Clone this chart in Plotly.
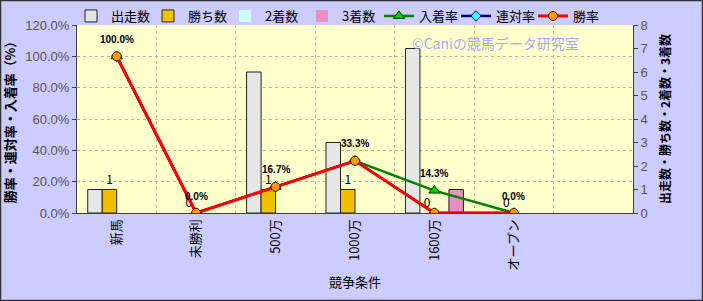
import plotly.graph_objects as go

categories = ["新馬", "未勝利", "500万", "1000万", "1600万", "オープン", " "]
starts = [1, 0, 6, 3, 7, 0, None]
wins = [1, 0, 1, 1, 0, 0, None]
seconds = [0, 0, 0, 0, 0, 0, None]
thirds = [0, 0, 0, 0, 1, 0, None]
place_rate = [1.0, 0.0, 0.167, 0.333, 0.143, 0.0, None]
rentai_rate = [1.0, 0.0, 0.167, 0.333, 0.0, 0.0, None]
win_rate = [1.0, 0.0, 0.167, 0.333, 0.0, 0.0, None]
place_labels = ["100.0%", "0.0%", "16.7%", "33.3%", "14.3%", "0.0%", ""]
left_ticks = [0, 0.2, 0.4, 0.6, 0.8, 1.0, 1.2]
right_ticks = [0, 1, 2, 3, 4, 5, 6, 7, 8]

JP = "Noto Sans CJK JP"
W, H = 703, 301
ML, MR, MT, MB = 77, 70, 25, 88
PW, PH = W - ML - MR, H - MT - MB


def outline(vals):
    return dict(color="#222222", width=[1 if v else 0 for v in vals])


fig = go.Figure()
fig.add_trace(go.Bar(x=categories, y=starts, name="出走数", yaxis="y",
                     marker=dict(color="#E6E6E6", line=outline(starts))))
fig.add_trace(go.Bar(x=categories, y=wins, name="勝ち数", yaxis="y",
                     marker=dict(color="#F0C000", line=outline(wins)),
                     text=[("" if v is None else str(v)) for v in wins],
                     textposition="outside", cliponaxis=False,
                     textfont=dict(family=JP, size=12, color="#000000")))
fig.add_trace(go.Bar(x=categories, y=seconds, name="2着数", yaxis="y",
                     marker=dict(color="#CCFFFF", line=outline(seconds))))
fig.add_trace(go.Bar(x=categories, y=thirds, name="3着数", yaxis="y",
                     marker=dict(color="#E890C0", line=outline(thirds))))

fig.add_trace(go.Scatter(x=categories, y=place_rate, name="入着率", yaxis="y2",
                         mode="lines+markers", line=dict(color="#008000", width=2.5),
                         marker=dict(symbol="triangle-up", size=10, color="#00CC00",
                                     line=dict(color="#004000", width=1))))
fig.add_trace(go.Scatter(x=categories, y=rentai_rate, name="連対率", yaxis="y2",
                         mode="lines+markers", line=dict(color="#000080", width=2.5),
                         marker=dict(symbol="diamond", size=8, color="#33FFFF",
                                     line=dict(color="#000040", width=1))))
fig.add_trace(go.Scatter(x=categories, y=win_rate, name="勝率", yaxis="y2",
                         mode="lines+markers", line=dict(color="#FF0000", width=3),
                         marker=dict(symbol="circle", size=9, color="#FF9900",
                                     line=dict(color="#402000", width=1))))

annotations = []
for c, v, t in zip(categories, place_rate, place_labels):
    if v is None:
        continue
    annotations.append(dict(x=c, y=v, xref="x", yref="y2", text=t, showarrow=False,
                            yshift=17, font=dict(family="Liberation Sans", size=10,
                                                 color="#000000", weight="bold")))
annotations.append(dict(x=(495 - ML) / PW, y=(MT + PH - 43) / PH, xref="paper", yref="paper",
                        xanchor="center", yanchor="middle",
                        text="©Caniの競馬データ研究室", showarrow=False,
                        font=dict(family=JP, size=14, color="#A8A8F8")))

fig.update_layout(
    width=W, height=H,
    margin=dict(l=ML, r=MR, t=MT, b=MB, autoexpand=False),
    paper_bgcolor="#CCCCFF", plot_bgcolor="#FFFFCC",
    barmode="group", bargap=0.27, bargroupgap=0,
    font=dict(family=JP, size=12, color="#000000"),
    showlegend=True,
    legend=dict(orientation="h", xref="container", x=(83 - 12) / W, xanchor="left",
                yref="container", y=1 - 16 / H, yanchor="middle",
                bgcolor="rgba(0,0,0,0)", font=dict(family=JP, size=13, color="#000000"),
                traceorder="normal", itemwidth=30, entrywidth=32, entrywidthmode="pixels"),
    xaxis=dict(type="category", categoryorder="array", categoryarray=categories,
               range=[-0.5, len(categories) - 0.5], tickson="boundaries",
               showgrid=True, gridcolor="#B8B8A0", griddash="dot", gridwidth=1,
               showline=True, linecolor="#404040", linewidth=1,
               tickangle=-90, ticks="", tickfont=dict(family=JP, size=13, color="#000000"),
               title=dict(text="競争条件", font=dict(family=JP, size=13, color="#000000"),
                          standoff=8)),
    yaxis=dict(side="right", range=[0, 8], tickvals=right_ticks, showgrid=False, zeroline=False,
               showline=True, linecolor="#404040", linewidth=1, ticks="outside", ticklen=4,
               tickcolor="#404040",
               tickfont=dict(family="Liberation Sans", size=13, color="#555555"),
               title=dict(text="出走数・勝ち数・2着数・3着数",
                          font=dict(family=JP, size=12, color="#000000", weight="bold"),
                          standoff=14)),
    yaxis2=dict(overlaying="y", side="left", range=[0, 1.2], tickvals=left_ticks,
                tickformat=".1%", showgrid=True, gridcolor="#B8B8A0", griddash="dot",
                zeroline=False, showline=True, linecolor="#404040", linewidth=1,
                ticks="outside", ticklen=4, tickcolor="#404040",
                tickfont=dict(family="Liberation Sans", size=13, color="#555555"),
                title=dict(text="勝率・連対率・入着率（%）",
                           font=dict(family=JP, size=13, color="#000000", weight="bold"),
                           standoff=9)),
    annotations=annotations,
    shapes=[dict(type="rect", xref="paper", yref="paper",
                 x0=-ML / PW + 0.5 / PW, x1=1 + MR / PW - 0.5 / PW,
                 y0=-MB / PH + 0.5 / PH, y1=1 + MT / PH - 0.5 / PH,
                 line=dict(color="#333333", width=1.5), layer="above")],
)

fig.write_html("out.html")
